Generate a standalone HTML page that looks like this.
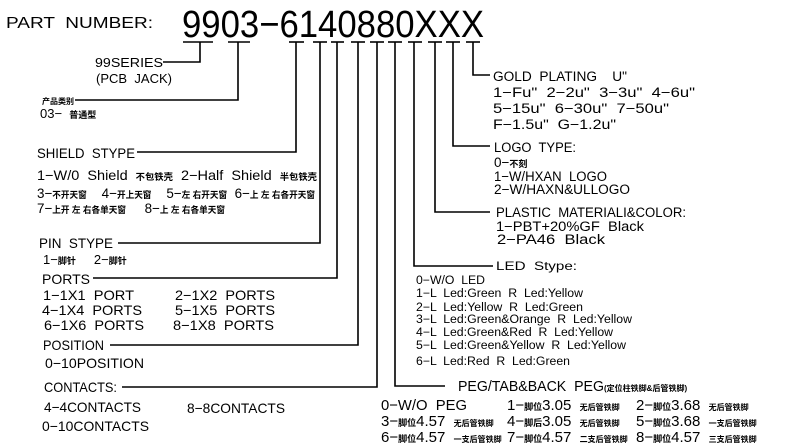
<!DOCTYPE html>
<html><head><meta charset="utf-8"><style>
html,body{margin:0;padding:0;background:#fff;}
svg{display:block;}
text{font-family:"Liberation Sans","Noto Sans CJK SC",sans-serif;fill:#000;white-space:pre;}
</style></head><body>
<svg width="800" height="446" viewBox="0 0 800 446" xmlns="http://www.w3.org/2000/svg" xml:space="preserve">
<g stroke="#000" stroke-width="1.6" fill="none">
<line x1="183" y1="42" x2="213" y2="42"/>
<line x1="228" y1="42" x2="250" y2="42"/>
<line x1="289" y1="42" x2="304" y2="42"/>
<line x1="313" y1="42" x2="327" y2="42"/>
<line x1="331" y1="42" x2="344" y2="42"/>
<line x1="351" y1="42" x2="365" y2="42"/>
<line x1="370" y1="42" x2="384" y2="42"/>
<line x1="388" y1="42" x2="402" y2="42"/>
<line x1="408" y1="42" x2="422" y2="42"/>
<line x1="428" y1="42" x2="442" y2="42"/>
<line x1="446" y1="42" x2="460" y2="42"/>
<line x1="466" y1="42" x2="480" y2="42"/>
<polyline points="200,42 200,62 163,62"/>
<polyline points="238,42 238,100 75,100"/>
<polyline points="296,42 296,152 137,152"/>
<polyline points="320,42 320,243 118,243"/>
<polyline points="337,42 337,278 93,278"/>
<polyline points="358,42 358,345 110,345"/>
<polyline points="377,42 377,387 122,387"/>
<polyline points="395,42 395,386 445,386"/>
<polyline points="414,42 414,266 493,266"/>
<polyline points="435,42 435,212 490,212"/>
<polyline points="453,42 453,146 490,146"/>
<polyline points="473,42 473,75 490,75"/>
</g>
<text x="6" y="28" font-size="16" textLength="147" lengthAdjust="spacingAndGlyphs">PART  NUMBER:</text>
<text x="182" y="37" font-size="38" textLength="302" lengthAdjust="spacingAndGlyphs">9903−6140880XXX</text>

<g font-size="13">
<text x="95" y="67" textLength="68" lengthAdjust="spacingAndGlyphs">99SERIES</text>
<text x="96" y="83" textLength="76" lengthAdjust="spacingAndGlyphs">(PCB  JACK)</text>
<text x="42" y="104" font-size="8" font-weight="bold">产品类别</text>
<text x="40" y="118">03−  <tspan font-size="9" font-weight="bold">普通型</tspan></text>
</g>

<g font-size="14">
<text x="37" y="158" textLength="98" lengthAdjust="spacingAndGlyphs">SHIELD  STYPE</text>
<text x="37" y="180" textLength="280" lengthAdjust="spacingAndGlyphs">1−W/0  Shield  <tspan font-size="9" font-weight="bold">不包铁壳</tspan>  2−Half  Shield  <tspan font-size="9" font-weight="bold">半包铁壳</tspan></text>
<text x="37" y="198" textLength="278" lengthAdjust="spacingAndGlyphs">3−<tspan font-size="9" font-weight="bold">不开天窗</tspan>    4−<tspan font-size="9" font-weight="bold">开上天窗</tspan>    5−<tspan font-size="9" font-weight="bold">左 右开天窗</tspan>  6−<tspan font-size="9" font-weight="bold">上 左 右各开天窗</tspan></text>
<text x="37" y="213" textLength="188" lengthAdjust="spacingAndGlyphs">7−<tspan font-size="9" font-weight="bold">上开 左 右各单天窗</tspan>     8−<tspan font-size="9" font-weight="bold">上 左 右各单天窗</tspan></text>
<text x="39" y="248" textLength="74" lengthAdjust="spacingAndGlyphs">PIN  STYPE</text>
<text x="43" y="264" font-size="13">1−<tspan font-size="9" font-weight="bold">脚针</tspan>     2−<tspan font-size="9" font-weight="bold">脚针</tspan></text>
<text x="42" y="284">PORTS</text>
<text x="43" y="300" textLength="91" lengthAdjust="spacingAndGlyphs">1−1X1  PORT</text>
<text x="175" y="300" textLength="100" lengthAdjust="spacingAndGlyphs">2−1X2  PORTS</text>
<text x="42" y="315" textLength="100" lengthAdjust="spacingAndGlyphs">4−1X4  PORTS</text>
<text x="175" y="315" textLength="100" lengthAdjust="spacingAndGlyphs">5−1X5  PORTS</text>
<text x="44" y="330" textLength="100" lengthAdjust="spacingAndGlyphs">6−1X6  PORTS</text>
<text x="173" y="330" textLength="101" lengthAdjust="spacingAndGlyphs">8−1X8  PORTS</text>
<text x="43" y="350" textLength="61" lengthAdjust="spacingAndGlyphs">POSITION</text>
<text x="45" y="368" textLength="99" lengthAdjust="spacingAndGlyphs">0−10POSITION</text>
<text x="44" y="392" textLength="73" lengthAdjust="spacingAndGlyphs">CONTACTS:</text>
<text x="44" y="412" textLength="97" lengthAdjust="spacingAndGlyphs">4−4CONTACTS</text>
<text x="187" y="413" textLength="98" lengthAdjust="spacingAndGlyphs">8−8CONTACTS</text>
<text x="42" y="431" textLength="107" lengthAdjust="spacingAndGlyphs">0−10CONTACTS</text>
</g>

<g font-size="13.5">
<text x="493" y="81" textLength="134" lengthAdjust="spacingAndGlyphs">GOLD  PLATING    U"</text>
<text x="493" y="97" textLength="202" lengthAdjust="spacingAndGlyphs">1−Fu"  2−2u"  3−3u"  4−6u"</text>
<text x="493" y="113" textLength="176" lengthAdjust="spacingAndGlyphs">5−15u"  6−30u"  7−50u"</text>
<text x="493" y="129" textLength="123" lengthAdjust="spacingAndGlyphs">F−1.5u"  G−1.2u"</text>
<text x="494" y="152" textLength="82" lengthAdjust="spacingAndGlyphs">LOGO  TYPE:</text>
<text x="494" y="167">0−<tspan font-size="9" font-weight="bold">不刻</tspan></text>
<text x="494" y="181" textLength="113" lengthAdjust="spacingAndGlyphs">1−W/HXAN  LOGO</text>
<text x="494" y="194" textLength="136" lengthAdjust="spacingAndGlyphs">2−W/HAXN&amp;ULLOGO</text>
<text x="496" y="217" textLength="190" lengthAdjust="spacingAndGlyphs">PLASTIC  MATERIALI&amp;COLOR:</text>
<text x="496" y="231" textLength="148" lengthAdjust="spacingAndGlyphs">1−PBT+20%GF  Black</text>
<text x="497" y="244" textLength="108" lengthAdjust="spacingAndGlyphs">2−PA46  Black</text>
</g>

<g font-size="11.5">
<text x="496" y="270" font-size="12" textLength="81" lengthAdjust="spacingAndGlyphs">LED  Stype:</text>
<text x="416" y="284" textLength="69" lengthAdjust="spacingAndGlyphs">0−W/O  LED</text>
<text x="416" y="297" textLength="167" lengthAdjust="spacingAndGlyphs">1−L  Led:Green  R  Led:Yellow</text>
<text x="416" y="311" textLength="167" lengthAdjust="spacingAndGlyphs">2−L  Led:Yellow  R  Led:Green</text>
<text x="416" y="323" textLength="216" lengthAdjust="spacingAndGlyphs">3−L  Led:Green&amp;Orange  R  Led:Yellow</text>
<text x="416" y="336" textLength="197" lengthAdjust="spacingAndGlyphs">4−L  Led:Green&amp;Red  R  Led:Yellow</text>
<text x="416" y="349" textLength="210" lengthAdjust="spacingAndGlyphs">5−L  Led:Green&amp;Yellow  R  Led:Yellow</text>
<text x="416" y="365" textLength="154" lengthAdjust="spacingAndGlyphs">6−L  Led:Red  R  Led:Green</text>
</g>

<g font-size="15">
<text x="458" y="391"><tspan textLength="146" lengthAdjust="spacingAndGlyphs">PEG/TAB&amp;BACK  PEG</tspan><tspan font-size="8" font-weight="bold">(定位柱铁脚&amp;后管铁脚)</tspan></text>
<text x="381" y="410" textLength="86" lengthAdjust="spacingAndGlyphs">0−W/O  PEG</text>
<text x="507" y="410">1−<tspan font-size="9" font-weight="bold">脚位</tspan>3.05  <tspan font-size="8" font-weight="bold">无后管铁脚</tspan></text>
<text x="636" y="410">2−<tspan font-size="9" font-weight="bold">脚位</tspan>3.68  <tspan font-size="8" font-weight="bold">无后管铁脚</tspan></text>
<text x="381" y="426">3−<tspan font-size="9" font-weight="bold">脚位</tspan>4.57  <tspan font-size="8" font-weight="bold">无后管铁脚</tspan></text>
<text x="507" y="426">4−<tspan font-size="9" font-weight="bold">脚后</tspan>3.05  <tspan font-size="8" font-weight="bold">无后管铁脚</tspan></text>
<text x="636" y="426">5−<tspan font-size="9" font-weight="bold">脚位</tspan>3.68  <tspan font-size="8" font-weight="bold">一支后管铁脚</tspan></text>
<text x="381" y="442">6−<tspan font-size="9" font-weight="bold">脚位</tspan>4.57  <tspan font-size="8" font-weight="bold">一支后管铁脚</tspan></text>
<text x="507" y="442">7−<tspan font-size="9" font-weight="bold">脚位</tspan>4.57  <tspan font-size="8" font-weight="bold">二支后管铁脚</tspan></text>
<text x="636" y="442">8−<tspan font-size="9" font-weight="bold">脚位</tspan>4.57  <tspan font-size="8" font-weight="bold">三支后管铁脚</tspan></text>
</g>
</svg>
</body></html>
